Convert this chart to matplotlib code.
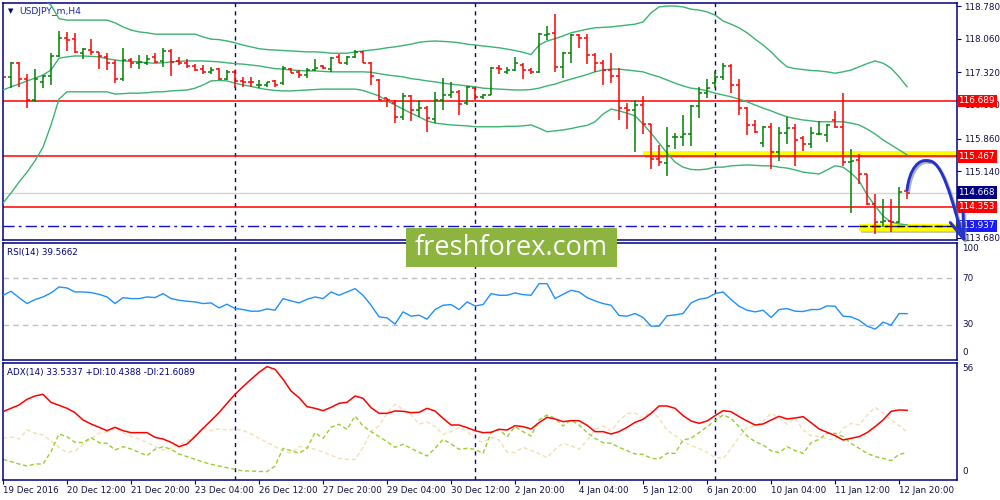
import matplotlib
matplotlib.use('Agg')
import matplotlib.pyplot as plt
import matplotlib.transforms as mtransforms
import matplotlib.patheffects as pe
from matplotlib.patches import Rectangle, PathPatch
from matplotlib.path import Path
import numpy as np

plt.rcParams['font.family'] = ['DejaVu Sans']

# USDJPY_m H4, 114 bars, 19 Dec 2016 .. 13 Jan 2017
opens = [117.41, 117.21, 117.52, 117.17, 116.70, 117.11, 117.24, 117.68, 118.07, 118.05,
         117.74, 117.81, 117.76, 117.66, 117.53, 117.17, 117.58, 117.52, 117.53, 117.65,
         117.57, 117.80, 117.57, 117.53, 117.46, 117.39, 117.33, 117.39, 117.17, 117.33,
         117.13, 117.11, 117.03, 117.04, 117.13, 117.08, 117.40, 117.33, 117.26, 117.37,
         117.46, 117.40, 117.66, 117.53, 117.65, 117.77, 117.53, 117.15, 116.75, 116.64,
         116.33, 116.80, 116.50, 116.54, 116.29, 116.71, 116.83, 116.89, 116.64, 116.97,
         116.77, 116.83, 117.42, 117.33, 117.36, 117.48, 117.37, 117.33, 118.14, 118.18,
         117.44, 117.74, 118.14, 118.07, 117.69, 117.52, 117.37, 117.24, 116.53, 116.49,
         116.60, 116.18, 115.40, 115.33, 115.89, 115.90, 115.95, 116.58, 116.87, 117.08,
         117.22, 117.46, 117.05, 116.53, 116.16, 115.76, 116.12, 115.56, 115.99, 116.09,
         115.87, 115.74, 115.95, 115.94, 116.27, 116.11, 115.35, 115.39, 115.08, 114.42,
         114.03, 114.04, 114.03, 114.71]
highs = [117.65, 117.54, 117.54, 117.28, 117.39, 117.26, 117.74, 118.23, 118.20, 118.18,
         117.85, 118.05, 117.77, 117.75, 117.59, 117.86, 117.64, 117.70, 117.70, 117.75,
         117.85, 117.83, 117.66, 117.61, 117.50, 117.47, 117.44, 117.41, 117.36, 117.37,
         117.21, 117.21, 117.15, 117.11, 117.15, 117.46, 117.41, 117.37, 117.42, 117.61,
         117.47, 117.65, 117.72, 117.68, 117.81, 117.79, 117.55, 117.17, 116.76, 116.71,
         116.86, 116.83, 116.71, 116.58, 116.89, 117.19, 117.11, 116.94, 117.02, 116.98,
         116.84, 117.43, 117.47, 117.44, 117.65, 117.53, 117.42, 118.18, 118.34, 118.60,
         117.76, 118.16, 118.16, 118.16, 117.75, 117.58, 117.75, 117.41, 116.64, 116.71,
         116.80, 116.18, 115.72, 116.12, 115.99, 116.38, 116.60, 116.99, 117.17, 117.35,
         117.53, 117.50, 117.17, 116.55, 116.28, 116.14, 116.20, 116.11, 116.33, 116.18,
         115.92, 116.11, 116.25, 116.18, 116.47, 116.87, 115.62, 115.52, 115.09, 114.64,
         114.53, 114.52, 114.79, 114.74]
lows = [117.15, 116.97, 117.00, 116.53, 116.67, 116.97, 117.03, 117.66, 117.80, 117.74,
        117.61, 117.70, 117.39, 117.37, 117.09, 117.13, 117.42, 117.39, 117.48, 117.52,
        117.44, 117.24, 117.48, 117.42, 117.35, 117.28, 117.28, 117.15, 117.15, 116.98,
        116.99, 116.99, 116.97, 116.99, 116.99, 117.03, 117.30, 117.19, 117.20, 117.35,
        117.40, 117.33, 117.52, 117.48, 117.63, 117.52, 117.03, 116.70, 116.55, 116.21,
        116.27, 116.25, 116.34, 116.01, 116.21, 116.48, 116.75, 116.39, 116.61, 116.71,
        116.73, 116.82, 117.28, 117.28, 117.35, 117.17, 117.28, 117.30, 118.03, 117.33,
        117.20, 117.52, 117.86, 117.50, 117.33, 117.03, 117.08, 116.28, 116.06, 115.57,
        115.95, 115.20, 115.26, 115.04, 115.64, 115.70, 115.70, 116.31, 116.76, 116.98,
        117.15, 116.86, 116.38, 115.94, 115.98, 115.68, 115.18, 115.37, 115.74, 115.26,
        115.59, 115.66, 115.94, 115.79, 116.09, 115.26, 114.23, 114.85, 114.40, 113.76,
        113.91, 113.80, 114.01, 114.53]
closes = [117.21, 117.52, 117.17, 116.71, 117.17, 117.24, 117.68, 118.07, 118.03, 117.76,
          117.83, 117.76, 117.68, 117.53, 117.17, 117.58, 117.53, 117.55, 117.61, 117.55,
          117.80, 117.55, 117.53, 117.46, 117.37, 117.33, 117.37, 117.17, 117.33, 117.13,
          117.11, 117.10, 117.04, 117.10, 117.03, 117.42, 117.31, 117.26, 117.37, 117.41,
          117.42, 117.63, 117.53, 117.65, 117.77, 117.53, 117.24, 116.72, 116.72, 116.33,
          116.80, 116.50, 116.54, 116.31, 116.71, 116.83, 116.89, 116.62, 117.00, 116.78,
          116.82, 117.41, 117.39, 117.37, 117.52, 117.36, 117.33, 118.16, 118.16, 117.44,
          117.74, 118.14, 118.07, 117.69, 117.52, 117.37, 117.24, 116.53, 116.49, 116.60,
          116.18, 115.40, 115.35, 115.70, 115.90, 115.95, 116.58, 116.87, 116.97, 117.21,
          117.46, 117.05, 116.53, 116.16, 116.01, 116.12, 115.56, 115.99, 116.09, 115.83,
          115.74, 115.98, 115.96, 116.16, 116.11, 115.35, 115.37, 115.09, 114.42, 114.03,
          114.04, 114.03, 114.69, 114.67]

# Bollinger bands
bb_upper = [119.42, 119.34, 119.23, 119.13, 119.01, 118.92, 118.80, 118.50, 118.47, 118.47,
            118.47, 118.47, 118.47, 118.47, 118.41, 118.32, 118.25, 118.21, 118.19, 118.16,
            118.16, 118.16, 118.16, 118.16, 118.16, 118.10, 118.05, 118.04, 118.01, 117.97,
            117.92, 117.88, 117.84, 117.82, 117.81, 117.80, 117.79, 117.78, 117.77, 117.77,
            117.76, 117.74, 117.74, 117.74, 117.77, 117.79, 117.81, 117.83, 117.86, 117.88,
            117.91, 117.94, 117.98, 118.00, 118.01, 118.00, 117.99, 117.97, 117.94, 117.92,
            117.90, 117.88, 117.86, 117.83, 117.80, 117.76, 117.71, 117.92, 118.01, 118.06,
            118.12, 118.19, 118.23, 118.27, 118.30, 118.31, 118.32, 118.34, 118.36, 118.38,
            118.43, 118.63, 118.76, 118.78, 118.78, 118.76, 118.71, 118.69, 118.65, 118.58,
            118.45, 118.38, 118.30, 118.19, 118.05, 117.92, 117.77, 117.59, 117.44, 117.40,
            117.38, 117.36, 117.35, 117.33, 117.30, 117.33, 117.37, 117.44, 117.51, 117.57,
            117.52, 117.41, 117.22, 117.00]
bb_middle = [116.93, 117.00, 117.06, 117.13, 117.19, 117.26, 117.37, 117.63, 117.66, 117.68,
             117.68, 117.67, 117.66, 117.62, 117.59, 117.57, 117.56, 117.55, 117.53, 117.52,
             117.53, 117.55, 117.56, 117.57, 117.57, 117.57, 117.56, 117.55, 117.53, 117.51,
             117.50, 117.48, 117.46, 117.43, 117.40, 117.39, 117.37, 117.36, 117.35, 117.35,
             117.34, 117.33, 117.33, 117.33, 117.33, 117.33, 117.32, 117.29, 117.26, 117.24,
             117.22, 117.18, 117.16, 117.13, 117.11, 117.08, 117.06, 117.04, 117.02, 117.00,
             116.97, 116.96, 116.95, 116.94, 116.93, 116.93, 116.94, 116.97, 117.02, 117.06,
             117.12, 117.17, 117.22, 117.27, 117.33, 117.37, 117.39, 117.39, 117.37, 117.35,
             117.33, 117.27, 117.22, 117.15, 117.08, 117.02, 116.97, 116.95, 116.91, 116.86,
             116.82, 116.78, 116.73, 116.67, 116.60, 116.53, 116.47, 116.40, 116.34, 116.30,
             116.27, 116.25, 116.23, 116.23, 116.23, 116.23, 116.20, 116.16, 116.07, 115.96,
             115.83, 115.72, 115.61, 115.50]
bb_lower = [114.44, 114.66, 114.90, 115.12, 115.37, 115.67, 116.16, 116.73, 116.89, 116.89,
            116.89, 116.89, 116.89, 116.89, 116.84, 116.85, 116.86, 116.86, 116.87, 116.89,
            116.89, 116.91, 116.92, 116.93, 116.97, 117.04, 117.13, 117.14, 117.13, 117.08,
            117.04, 117.01, 116.97, 116.94, 116.92, 116.91, 116.91, 116.92, 116.93, 116.94,
            116.95, 116.95, 116.95, 116.95, 116.95, 116.92, 116.86, 116.80, 116.69, 116.60,
            116.51, 116.42, 116.34, 116.25, 116.20, 116.18, 116.16, 116.15, 116.14, 116.12,
            116.12, 116.12, 116.12, 116.13, 116.13, 116.14, 116.16, 116.09, 116.01, 116.03,
            116.05, 116.08, 116.12, 116.15, 116.23, 116.40, 116.51, 116.47, 116.42, 116.36,
            116.18, 115.98, 115.76, 115.54, 115.34, 115.23, 115.18, 115.17, 115.19, 115.23,
            115.23, 115.26, 115.27, 115.28, 115.27, 115.26, 115.26, 115.23, 115.21, 115.17,
            115.12, 115.10, 115.08, 115.17, 115.26, 115.23, 115.10, 114.93, 114.62, 114.38,
            114.15, 114.02, 113.98, 113.96]

# RSI(14)
rsi = [55.32, 58.70, 53.33, 48.23, 51.63, 53.90, 57.31, 62.41, 61.56, 58.16,
       58.16, 57.59, 56.17, 53.90, 48.23, 53.33, 52.48, 52.48, 53.90, 53.33,
       56.74, 52.48, 51.07, 50.22, 49.65, 48.23, 48.80, 44.54, 47.66, 43.97,
       43.12, 41.71, 41.71, 43.69, 42.56, 52.48, 50.50, 48.80, 51.92, 53.90,
       52.48, 58.16, 55.32, 58.16, 61.00, 55.32, 46.81, 36.88, 36.03, 30.64,
       41.14, 37.45, 38.30, 34.90, 43.12, 46.81, 47.38, 43.12, 49.65, 46.24,
       47.38, 56.74, 55.32, 55.32, 57.31, 55.89, 55.32, 65.25, 65.25, 52.48,
       56.17, 59.57, 58.16, 53.33, 50.50, 48.23, 46.81, 38.00, 37.45, 39.72,
       36.31, 28.94, 28.94, 37.73, 38.58, 39.72, 48.80, 51.92, 53.05, 56.74,
       58.16, 51.63, 45.96, 42.56, 41.14, 42.56, 36.31, 43.12, 43.97, 41.71,
       41.42, 43.12, 43.12, 46.24, 45.96, 37.45, 36.88, 34.04, 28.94, 26.39,
       32.34, 29.79, 39.72, 39.57]

# ADX(14)
adx = [32.79, 34.60, 36.41, 39.49, 41.30, 42.21, 37.86, 36.23, 34.60, 32.25,
       28.26, 26.09, 24.28, 22.46, 24.28, 22.46, 21.38, 21.38, 21.38, 18.84,
       17.93, 16.12, 13.77, 15.22, 19.20, 23.73, 27.90, 32.25, 37.32, 42.21,
       46.38, 50.36, 54.17, 57.25, 55.80, 50.36, 44.02, 40.40, 35.51, 34.60,
       33.33, 35.14, 37.32, 37.86, 41.30, 40.04, 34.96, 31.88, 31.88, 33.15,
       32.97, 32.25, 32.43, 34.60, 33.15, 29.17, 25.54, 25.54, 24.09, 22.46,
       21.38, 21.56, 23.19, 22.83, 25.18, 24.64, 23.37, 26.81, 29.71, 28.80,
       27.36, 27.90, 27.90, 25.36, 21.92, 21.92, 20.65, 21.92, 24.28, 26.99,
       28.62, 31.88, 35.87, 35.87, 34.60, 30.62, 27.72, 26.45, 27.72, 30.62,
       33.33, 32.79, 30.07, 27.72, 25.54, 26.09, 28.26, 30.25, 28.80, 29.35,
       30.07, 26.81, 23.37, 21.56, 19.75, 17.39, 18.30, 19.20, 21.38, 24.64,
       28.26, 32.97, 33.70, 33.53]
plus_di = [6.88, 5.62, 4.35, 3.26, 4.35, 4.35, 11.05, 20.65, 19.20, 16.12,
           15.94, 18.66, 15.94, 15.58, 11.96, 13.77, 12.50, 10.69, 8.88, 12.32,
           13.77, 12.32, 9.78, 8.33, 6.88, 5.43, 4.17, 3.26, 2.36, 1.45,
           0.54, 0.54, 0.30, 0.20, 3.26, 12.86, 11.59, 10.14, 12.86, 21.38,
           18.30, 24.28, 25.91, 23.19, 30.43, 25.00, 21.92, 19.20, 16.49, 13.41,
           15.04, 12.86, 10.69, 8.70, 12.86, 17.75, 15.22, 12.32, 12.86, 12.32,
           10.14, 21.38, 23.19, 19.20, 24.64, 21.92, 19.57, 28.26, 30.98, 29.17,
           25.00, 28.26, 25.54, 21.38, 18.30, 15.94, 15.58, 13.41, 11.59, 9.78,
           9.60, 7.43, 7.07, 10.14, 10.14, 17.39, 18.30, 21.38, 24.64, 27.90,
           30.98, 29.17, 24.64, 19.57, 16.49, 14.67, 11.59, 10.51, 13.77, 11.59,
           10.14, 15.94, 17.75, 21.01, 21.01, 19.20, 15.58, 12.86, 10.14, 8.33,
           7.43, 6.16, 9.60, 10.44]
minus_di = [18.30, 19.02, 17.93, 22.83, 21.01, 20.11, 16.85, 13.41, 10.51, 11.41,
            14.67, 18.12, 21.01, 21.92, 23.73, 21.38, 19.38, 17.93, 16.12, 13.77,
            11.96, 12.86, 14.86, 16.49, 20.11, 24.09, 22.46, 23.55, 22.83, 23.19,
            22.64, 20.65, 18.30, 16.12, 13.77, 11.59, 10.14, 13.77, 13.41, 12.32,
            10.87, 9.06, 7.43, 6.88, 6.70, 13.41, 21.92, 25.18, 31.88, 36.78,
            34.06, 31.16, 26.09, 27.17, 24.64, 20.47, 21.92, 24.09, 22.28, 17.93,
            15.94, 18.84, 17.39, 10.87, 10.51, 13.41, 11.78, 9.96, 7.79, 12.32,
            15.58, 14.31, 12.32, 17.03, 23.19, 25.00, 22.28, 27.90, 31.70, 32.07,
            29.17, 33.33, 29.17, 22.83, 19.75, 16.49, 14.31, 12.86, 10.51, 7.97,
            7.25, 12.68, 19.20, 24.28, 24.82, 27.72, 31.88, 29.35, 25.91, 29.17,
            22.83, 19.75, 19.20, 17.93, 17.39, 23.73, 26.45, 25.54, 30.98, 35.14,
            31.88, 28.26, 25.18, 21.61]

date_labels = ['19 Dec 2016', '20 Dec 12:00', '21 Dec 20:00', '23 Dec 04:00', '26 Dec 12:00',
               '27 Dec 20:00', '29 Dec 04:00', '30 Dec 12:00', '2 Jan 20:00', '4 Jan 04:00',
               '5 Jan 12:00', '6 Jan 20:00', '10 Jan 04:00', '11 Jan 12:00', '12 Jan 20:00']
week_starts = [29, 59, 89]
price_ticks = [118.78, 118.06, 117.32, 116.60, 115.86, 115.14, 114.42, 113.68]
hidden_ticks = [114.42]  # covered by the 114.353 price box in the terminal
red_levels = [116.689, 115.467, 114.353]
bid_price = 114.668
dash_level = 113.937

# hand drawn forecast arrow (bar index, price)
arrow_up = [(113.0, 114.73), (113.3, 115.20), (114.5, 115.42), (115.6, 115.37)]
arrow_down = [(115.6, 115.37), (117.4, 115.40), (118.6, 114.50), (120.0, 113.66)]
arrow_head = [(118.4, 114.01), (120.1, 113.64), (120.0, 114.22)]

NAVY = '#000080'
W, H = 1000, 500
fig = plt.figure(figsize=(10, 5), dpi=100)
fig.patch.set_facecolor('white')


def px_axes(x0, y0, x1, y1):
    return fig.add_axes([x0 / W, 1 - y1 / H, (x1 - x0) / W, (y1 - y0) / H])


ax = px_axes(2.5, 2.7, 956.7, 240.3)
ax_rsi = px_axes(2.5, 243, 956.7, 360)
ax_adx = px_axes(2.5, 362.5, 956.7, 479.5)

bars = np.arange(len(closes))
for a in (ax, ax_rsi, ax_adx):
    a.set_xlim(-0.0625, 119.2)
    for s in a.spines.values():
        s.set_color(NAVY)
        s.set_linewidth(1.1)
    a.set_xticks([])
    a.set_yticks([])
    for w in week_starts:
        a.axvline(w, color=NAVY, lw=1.0, ls=(0, (3, 3)), zorder=1.5)

# ---- price panel
ax.set_ylim(113.619, 118.853)
o, h, l, c = map(np.array, (opens, highs, lows, closes))
cols = np.where(c >= o, '#008000', '#ff0000')

# yellow zones with a soft shadow
ax.add_patch(Rectangle((80.2, 115.43), 40, 0.06, fc='#a9a48a', ec='none', alpha=0.6, zorder=1))
ax.add_patch(Rectangle((80.0, 115.48), 40, 0.115, fc='#ffff00', ec='none', zorder=1.2))
ax.add_patch(Rectangle((107.2, 113.79), 13, 0.05, fc='#a9a48a', ec='none', alpha=0.6, zorder=1))
ax.add_patch(Rectangle((107.0, 113.83), 13, 0.15, fc='#ffff00', ec='none', zorder=1.2))

for lv in red_levels:
    ax.axhline(lv, color='#ff0000', lw=1.1, zorder=2)
ax.axhline(bid_price, color='#d4d4d4', lw=1.0, zorder=2)
ax.axhline(dash_level, color='#1010d0', lw=1.0, ls=(0, (8, 3, 2, 3)), zorder=2)
ax.hlines(dash_level, 107.0, 119.2, color='black', lw=1.0, ls=(0, (6, 3)), zorder=2.2)

for band in (bb_upper, bb_middle, bb_lower):
    ax.plot(bars, band, color='#3cb371', lw=1.0, zorder=3)

ax.vlines(bars, l, h, colors=cols, lw=1.1, zorder=4)
ax.hlines(o, bars - 0.4, bars, colors=cols, lw=1.1, zorder=4)
ax.hlines(c, bars, bars + 0.4, colors=cols, lw=1.1, zorder=4)

ax.yaxis.tick_right()
ax.set_yticks(price_ticks)
ax.set_yticklabels(['' if p in hidden_ticks else f'{p:.3f}' for p in price_ticks])
ax.tick_params(axis='y', direction='out', length=3, width=0.8, color=NAVY,
               labelsize=6.3, labelcolor='#101040', pad=2)

trans = mtransforms.blended_transform_factory(ax.transAxes, ax.transData)
boxes = [(116.689, '#ff0000'), (115.467, '#ff0000'), (bid_price, '#000080'),
         (114.353, '#ff0000'), (dash_level, '#1a1aff')]
for val, fc in boxes:
    ax.text(1.0017, val, f'{val:.3f}', transform=trans, ha='left', va='center',
            fontsize=6.4, color='white', clip_on=False, zorder=6,
            bbox=dict(boxstyle='square,pad=0.2', fc=fc, ec='none'))

# forecast arrow
shadow = [pe.SimpleLineShadow(offset=(1.2, -1.2), shadow_color='#808080', alpha=0.6), pe.Normal()]
for seg in (arrow_up, arrow_down):
    path = Path(seg, [Path.MOVETO, Path.CURVE4, Path.CURVE4, Path.CURVE4])
    ax.add_patch(PathPatch(path, fc='none', ec='#2233cc', lw=2.1, capstyle='round',
                           clip_on=False, zorder=7, path_effects=shadow))
hx, hy = zip(*arrow_head)
ax.plot(hx, hy, color='#2233cc', lw=2.1, solid_capstyle='round', solid_joinstyle='round',
        clip_on=False, zorder=7, path_effects=shadow)

# ---- RSI panel
ax_rsi.set_ylim(0, 100)
for lv in (70, 30):
    ax_rsi.axhline(lv, color='#c0c0c0', lw=1.0, ls=(0, (4, 3)), zorder=1)
ax_rsi.plot(bars, rsi, color='#1e90ff', lw=1.0, zorder=3)
tr = mtransforms.blended_transform_factory(ax_rsi.transAxes, ax_rsi.transData)
for val, txt in ((94.9, '100'), (70, '70'), (30, '30'), (6, '0')):
    ax_rsi.text(1.006, val, txt, transform=tr, ha='left', va='center', fontsize=6.3,
                color='#101040', clip_on=False)

# ---- ADX panel
ax_adx.set_ylim(-4.08, 59.5)
ax_adx.plot(bars, minus_di, color='#f5deb3', lw=1.0, ls=(0, (3, 2)), zorder=2)
ax_adx.plot(bars, plus_di, color='#9acd32', lw=1.0, ls=(0, (3, 2)), zorder=2)
ax_adx.plot(bars, adx, color='#ff0000', lw=1.1, zorder=3)
tr2 = mtransforms.blended_transform_factory(ax_adx.transAxes, ax_adx.transData)
for val, txt in ((56, '56'), (0, '0')):
    ax_adx.text(1.006, val, txt, transform=tr2, ha='left', va='center', fontsize=6.3,
                color='#101040', clip_on=False)

ax_adx.set_xticks(np.arange(0, len(date_labels) * 8, 8))
ax_adx.set_xticklabels(date_labels)
for lab in ax_adx.get_xticklabels():
    lab.set_ha('left')
ax_adx.tick_params(axis='x', direction='out', length=3, width=0.8, color=NAVY,
                   labelsize=6.3, labelcolor='#101040', pad=2)

# ---- labels
fig.text(8 / W, 1 - 11 / H, '\u25bc', fontsize=5, color=NAVY, va='center')
fig.text(19 / W, 1 - 11 / H, 'USDJPY_m,H4', fontsize=6.6, color='#1c2a9c', va='center')
fig.text(7 / W, 1 - 252 / H, 'RSI(14) 39.5662', fontsize=6.3, color=NAVY, va='center')
fig.text(7 / W, 1 - 372 / H, 'ADX(14) 33.5337 +DI:10.4388 -DI:21.6089', fontsize=6.3,
         color=NAVY, va='center')

# watermark
fig.add_artist(Rectangle((406 / W, 1 - 267 / H), 211 / W, 39 / H, transform=fig.transFigure,
                         fc='#8cb43f', ec='none', zorder=10))
fig.text(511.5 / W, 1 - 248 / H, 'freshforex.com', fontsize=19.5, color='white',
         family=['Open Sans', 'DejaVu Sans'], ha='center', va='center', zorder=11)

fig.savefig('out.png', dpi=100)
